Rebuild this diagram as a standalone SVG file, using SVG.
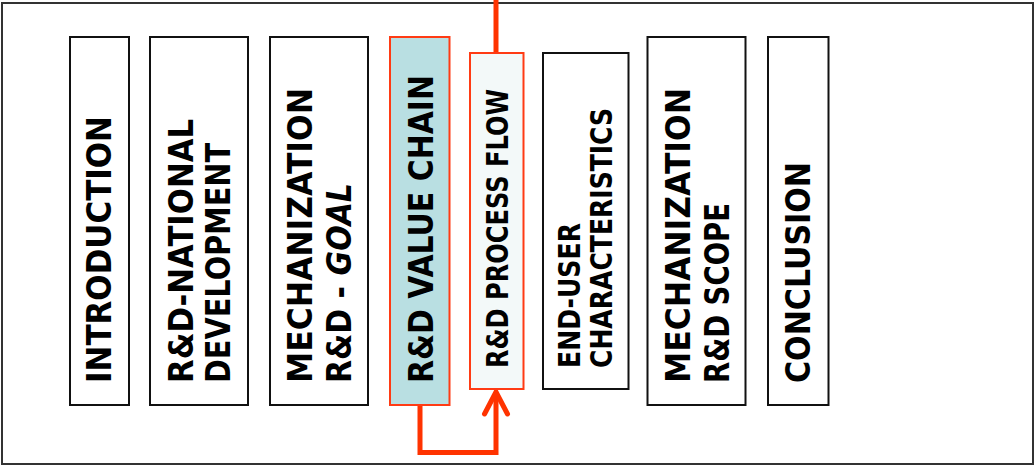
<svg xmlns="http://www.w3.org/2000/svg" width="1035" height="466" viewBox="0 0 1035 466">
<style>
.box{fill:#ffffff;stroke:#111111;stroke-width:2}
.hot{stroke:#ff3b14;stroke-width:2}
.t{font-family:"DejaVu Sans","Liberation Sans",sans-serif;font-weight:bold;fill:#000000}
.big{font-size:34px}
.sm{font-size:30px}
.conn{fill:none;stroke:#ff3300;stroke-width:5}
</style>
<defs>
<marker id="arr" markerUnits="userSpaceOnUse" viewBox="-28 -16 32 32" markerWidth="32" markerHeight="32" refX="0" refY="0" orient="auto" overflow="visible">
<path d="M-22,-11.5 L0,0 L-22,11.5" fill="none" stroke="#ff3300" stroke-width="5" stroke-linecap="round" stroke-linejoin="miter"/>
</marker>
</defs>
<rect x="0" y="0" width="1035" height="466" fill="#ffffff"/>
<rect x="2" y="3" width="1031" height="461" fill="none" stroke="#333333" stroke-width="2"/>
<g id="connectors">
<line class="conn" x1="496" y1="0" x2="496" y2="53"/>
<path class="conn" d="M420,405 V452.5 H496 V392" marker-end="url(#arr)"/>
</g>
<g id="n1">
<rect class="box" x="70" y="37" width="59" height="368"/>
<text class="t big" transform="translate(111,383) rotate(-90)" textLength="267" lengthAdjust="spacingAndGlyphs">INTRODUCTION</text>
</g>
<g id="n2">
<rect class="box" x="150" y="37" width="98" height="368"/>
<text class="t big" transform="translate(192.5,383) rotate(-90)" textLength="264" lengthAdjust="spacingAndGlyphs">R&amp;D-NATIONAL</text>
<text class="t big" transform="translate(230,383) rotate(-90)" textLength="240" lengthAdjust="spacingAndGlyphs">DEVELOPMENT</text>
</g>
<g id="n3">
<rect class="box" x="270" y="37" width="98" height="368"/>
<text class="t big" transform="translate(312,383) rotate(-90)" textLength="295" lengthAdjust="spacingAndGlyphs">MECHANIZATION</text>
<text class="t big" transform="translate(351,383) rotate(-90)" textLength="200" lengthAdjust="spacingAndGlyphs">R&amp;D - <tspan font-style="italic">GOAL</tspan></text>
</g>
<g id="n4">
<rect class="hot" fill="#b9dfe2" x="390" y="37" width="59.5" height="368"/>
<text class="t big" transform="translate(432.5,383) rotate(-90)" textLength="308" lengthAdjust="spacingAndGlyphs">R&amp;D VALUE CHAIN</text>
</g>
<g id="n5">
<rect class="hot" fill="#f3f9f9" x="470" y="53" width="53.5" height="336"/>
<text class="t sm" transform="translate(507.5,368) rotate(-90)" textLength="279" lengthAdjust="spacingAndGlyphs">R&amp;D PROCESS FLOW</text>
</g>
<g id="n6">
<rect class="box" x="543" y="53" width="85.5" height="336"/>
<text class="t sm" transform="translate(580,368) rotate(-90)" textLength="145" lengthAdjust="spacingAndGlyphs">END-USER</text>
<text class="t sm" transform="translate(612,368) rotate(-90)" textLength="260" lengthAdjust="spacingAndGlyphs">CHARACTERISTICS</text>
</g>
<g id="n7">
<rect class="box" x="647.5" y="37" width="98" height="368"/>
<text class="t big" transform="translate(690,383) rotate(-90)" textLength="295" lengthAdjust="spacingAndGlyphs">MECHANIZATION</text>
<text class="t big" transform="translate(728.5,383) rotate(-90)" textLength="180" lengthAdjust="spacingAndGlyphs">R&amp;D SCOPE</text>
</g>
<g id="n8">
<rect class="box" x="768" y="37" width="60.5" height="368"/>
<text class="t big" transform="translate(810,383) rotate(-90)" textLength="221" lengthAdjust="spacingAndGlyphs">CONCLUSION</text>
</g>
</svg>
